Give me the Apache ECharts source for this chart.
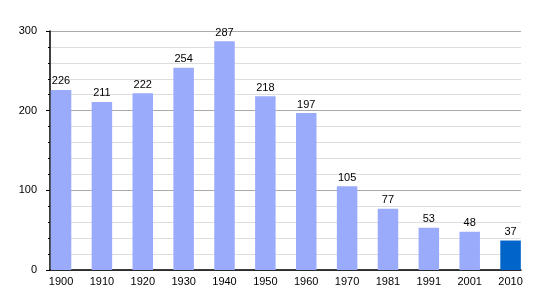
<!DOCTYPE html>
<html><head><meta charset="utf-8">
<script src="https://cdn.jsdelivr.net/npm/echarts@6/dist/echarts.min.js"></script>
<style>html,body{margin:0;padding:0;background:#fff}#c{width:550px;height:300px}</style>
</head><body><div id="c"></div>
<script>
var years = ['1900','1910','1920','1930','1940','1950','1960','1970','1981','1991','2001','2010'];
var population = [226,211,222,254,287,218,197,105,77,53,48,37];
var yTicks = [0,100,200,300];
var lightColor = '#9aabfb';
var darkColor = '#0064c8';

var chart = echarts.init(document.getElementById('c'), null, {renderer:'canvas'});
var font = 'Liberation Sans, Arial, sans-serif';
chart.setOption({
  animation:false,
  grid:[
    {left:50, right:29, top:31, bottom:30},
    {left:40.6, right:19, top:31, bottom:30}
  ],
  xAxis:[
    {gridIndex:0, type:'value', min:0, max:1, axisLine:{show:true,lineStyle:{color:'#000',width:1.5}}, axisTick:{show:false}, axisLabel:{show:false}, splitLine:{show:false}},
    {gridIndex:1, type:'category', data:years, axisLine:{show:false}, axisTick:{show:false},
     axisLabel:{color:'#000', fontSize:11, fontFamily:font, margin:6}}
  ],
  yAxis:[
    {gridIndex:0, type:'value', min:yTicks[0], max:yTicks[yTicks.length-1], interval:100,
     axisLine:{show:true,lineStyle:{color:'#000',width:1.5}},
     axisTick:{show:true,length:4,lineStyle:{color:'#000'}},
     minorTick:{show:true,splitNumber:5,length:2,lineStyle:{color:'#000'}},
     axisLabel:{color:'#000', fontSize:11, fontFamily:font, margin:13},
     splitLine:{show:true,lineStyle:{color:'#aaaaaa',width:1}},
     minorSplitLine:{show:true,lineStyle:{color:'#dddddd',width:1}}},
    {gridIndex:1, type:'value', min:0, max:300, show:false, splitLine:{show:false}}
  ],
  series:[{
    type:'bar', xAxisIndex:1, yAxisIndex:1, barWidth:20.5,
    data: population.map(function(v,i){return {value:v, itemStyle:{color: i===population.length-1 ? darkColor : lightColor}};}),
    label:{show:true, position:'top', distance:3, color:'#000', fontSize:11, fontFamily:font}
  }]
});
</script></body></html>
